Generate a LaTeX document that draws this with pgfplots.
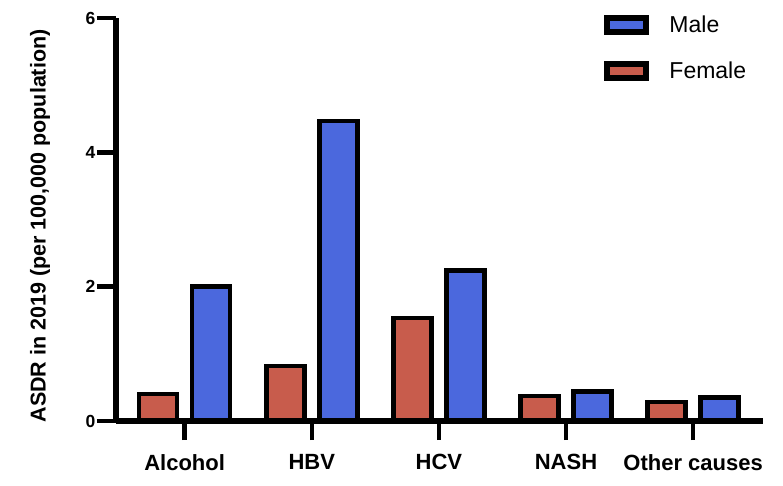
\documentclass[border=0pt]{standalone}
\usepackage{pgfplots}
\pgfplotsset{compat=1.18}
\usepackage{fontspec}
\setmainfont{Liberation Sans}
\definecolor{maleblue}{RGB}{75,104,221}
\definecolor{femred}{RGB}{200,92,76}
\pgfplotsset{mylegimg/.style={legend image code/.code={\draw[#1,line width=6pt] (0pt,-7pt) rectangle (39pt,7pt);}}}
\begin{document}
\begin{tikzpicture}
\begin{axis}[
  scale only axis, width=647pt, height=403pt,
  xmin=-0.54, xmax=4.55, ymin=0, ymax=6,
  axis x line*=bottom, axis y line*=left,
  axis line style={line width=5.5pt, -},
  axis on top, clip=false,
  ybar, bar width=38pt,
  xtick={0,1,2,3,4},
  xticklabels={Alcohol,HBV,HCV,NASH,Other causes},
  ytick={0,2,4,6},
  yticklabels={0,2,4,6},
  tick align=outside, major tick length=19pt,
  every tick/.style={black, line width=4.5pt},
  yticklabel style={font=\bfseries\fontsize{17.5}{20}\selectfont, inner xsep=1.5pt},
  xticklabel style={font=\bfseries\fontsize{22}{26}\selectfont, yshift=-11pt},
  ylabel={ASDR in 2019 (per 100,000 population)},
  every axis y label/.style={at={(axis description cs:-0.1175,0.484)}, rotate=90, anchor=center, font=\bfseries\fontsize{21.5}{24}\selectfont},
  legend style={draw=none, fill=none, at={(axis description cs:0.75,1.015)}, anchor=north west, font=\fontsize{23}{27}\selectfont, row sep=24pt,
    /tikz/every odd column/.append style={column sep=18pt}},
  legend cell align=left,
]
\addplot[fill=maleblue, draw=black, line width=4.5pt, bar shift=26.5pt, mylegimg] coordinates {(0,2.00) (1,4.47) (2,2.24) (3,0.44) (4,0.35)};
\addplot[fill=femred, draw=black, line width=4.5pt, bar shift=-26.5pt, mylegimg] coordinates {(0,0.40) (1,0.82) (2,1.53) (3,0.37) (4,0.28)};
\legend{Male,Female}
\end{axis}
\pgfresetboundingbox
\path[use as bounding box] ([shift={(-116pt,-64pt)}]current axis.south west) rectangle ([shift={(667pt,421pt)}]current axis.south west);
\end{tikzpicture}
\end{document}
